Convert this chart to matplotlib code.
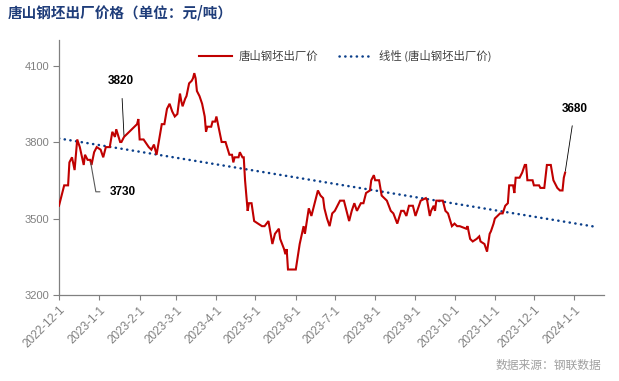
import matplotlib
matplotlib.use("Agg")
import matplotlib.pyplot as plt
import numpy as np
import pandas as pd

CJK = ["Noto Sans CJK SC", "DejaVu Sans"]
NUM = ["Liberation Sans", "DejaVu Sans"]

# days since 2022-12-01 and price (元/吨)
DAY_OFFSET = [0, 4, 7, 8, 9, 10, 12, 14, 16, 19, 20, 22, 24, 25, 27, 29, 32, 34, 36, 39,
              41, 43, 44, 47, 48, 50, 60, 61, 62, 65, 69, 71, 73, 75, 79, 81, 83, 85, 87, 89,
              91, 93, 94, 95, 97, 98, 100, 102, 103, 104, 105, 106, 108, 110, 112, 113, 114, 117, 118, 120,
              121, 123, 125, 128, 131, 133, 134, 135, 138, 139, 141, 142, 143, 145, 146, 148, 150, 153, 156, 158,
              161, 164, 166, 169, 170, 173, 174, 175, 176, 182, 185, 188, 189, 192, 194, 196, 199, 201, 203, 204,
              206, 208, 210, 212, 213, 216, 219, 221, 223, 225, 227, 229, 232, 234, 236, 239, 240, 242, 243, 246,
              248, 252, 255, 257, 260, 263, 265, 267, 269, 272, 274, 278, 282, 283, 285, 286, 288, 289, 290, 295,
              297, 299, 302, 304, 306, 308, 313, 314, 316, 318, 321, 323, 324, 327, 329, 331, 332, 334, 335, 337,
              339, 341, 343, 345, 346, 349, 350, 351, 354, 356, 358, 359, 360, 364, 365, 369, 370, 373, 375, 376,
              378, 380, 383, 385, 387, 388, 389]
PRICE = [3550, 3630, 3630, 3720, 3730, 3740, 3690, 3810, 3780, 3710, 3750, 3730, 3730, 3710, 3760, 3780, 3770, 3740, 3780, 3780,
         3840, 3820, 3850, 3800, 3800, 3820, 3870, 3890, 3810, 3810, 3780, 3770, 3790, 3750, 3870, 3870, 3930, 3950, 3920, 3900,
         3910, 3990, 3960, 3940, 3970, 3980, 4030, 4040, 4050, 4070, 4050, 4000, 3980, 3950, 3900, 3840, 3860, 3860, 3880, 3880,
         3900, 3850, 3800, 3800, 3750, 3750, 3720, 3740, 3740, 3760, 3740, 3740, 3650, 3530, 3560, 3560, 3490, 3480, 3470, 3470,
         3490, 3400, 3440, 3460, 3420, 3380, 3360, 3380, 3300, 3300, 3400, 3470, 3440, 3540, 3510, 3550, 3610, 3590, 3580, 3540,
         3500, 3470, 3520, 3530, 3540, 3570, 3570, 3530, 3490, 3530, 3560, 3530, 3560, 3560, 3600, 3610, 3650, 3670, 3650, 3650,
         3590, 3570, 3530, 3520, 3480, 3530, 3530, 3510, 3550, 3550, 3510, 3570, 3580, 3570, 3510, 3530, 3550, 3530, 3570, 3570,
         3530, 3520, 3470, 3480, 3470, 3470, 3460, 3470, 3420, 3410, 3420, 3430, 3410, 3400, 3370, 3440, 3450, 3480, 3500, 3510,
         3520, 3520, 3550, 3560, 3630, 3630, 3600, 3660, 3660, 3680, 3710, 3710, 3650, 3650, 3630, 3630, 3620, 3620, 3710, 3710,
         3710, 3650, 3620, 3610, 3610, 3660, 3680]
START = "2022-12-01"
TREND_END = "2024-01-19"
X_END = "2024-01-24"
X_TICKS = ["2022-12-01", "2023-01-01", "2023-02-01", "2023-03-01", "2023-04-01", "2023-05-01", "2023-06-01",
           "2023-07-01", "2023-08-01", "2023-09-01", "2023-10-01", "2023-11-01", "2023-12-01", "2024-01-01"]
Y_TICKS = [3200, 3500, 3800, 4100]
LABELS = [(24, 3730), (50, 3820), (389, 3680)]

start = pd.Timestamp(START)
dates = start + pd.to_timedelta(DAY_OFFSET, unit="D")
price = np.array(PRICE, dtype=float)

# linear trend over the series, extended forward
k, b = np.polyfit(DAY_OFFSET, price, 1)
t_end = (pd.Timestamp(TREND_END) - start).days
tx = np.array([0, t_end])

fig = plt.figure(figsize=(6.19, 3.81), dpi=100)
fig.patch.set_facecolor("white")
ax = fig.add_axes([0.0953, 0.2257, 0.8807, 0.6693])

RED = "#c00000"; BLUE = "#0b3f8a"; GREY = "#808080"
ax.plot(dates, price, color=RED, lw=1.5, solid_joinstyle="miter", zorder=3, label="唐山钢坯出厂价")
ax.plot(start + pd.to_timedelta(tx, unit="D"), k * tx + b, color=BLUE, lw=1.8,
        linestyle=(0, (0.1, 2.2)), dash_capstyle="round", zorder=2, label="线性 (唐山钢坯出厂价)")

ax.set_xlim(start, pd.Timestamp(X_END))
ax.set_ylim(3200, 4200)
ax.set_yticks(Y_TICKS)
ax.set_xticks(pd.to_datetime(X_TICKS))
ax.set_xticklabels([f"{d.year}-{d.month}-{d.day}" for d in pd.to_datetime(X_TICKS)],
                   rotation=45, ha="right", rotation_mode="anchor", family=NUM, fontsize=8.5, color=GREY)
for t in ax.get_yticklabels():
    t.set_family(NUM); t.set_fontsize(8); t.set_color(GREY)
ax.tick_params(axis="both", direction="out", color=GREY, width=0.8)
ax.tick_params(axis="x", length=3.5, pad=3)
ax.tick_params(axis="y", length=4, pad=3)
for s in ["top", "right"]:
    ax.spines[s].set_visible(False)
for s in ["left", "bottom"]:
    ax.spines[s].set_color(GREY); ax.spines[s].set_linewidth(0.9)

leg = ax.legend(loc="center", bbox_to_anchor=(0.525, 0.937), ncol=2, frameon=False,
                handlelength=2.9, columnspacing=1.8, handletextpad=0.6, prop={"family": CJK, "size": 8.2})
for t in leg.get_texts():
    t.set_color("#404040")

# data labels
offs = {24: ((14, -23), "left"), 50: ((-2, 40), "center"), 389: ((7, 46), "center")}
for d, v in LABELS:
    (ox, oy), ha = offs[d]
    dt = start + pd.Timedelta(days=d)
    if d == 24:
        ax.annotate(str(v), xy=(dt, v), xytext=(ox, oy), textcoords="offset points", ha=ha, va="center",
                    fontsize=8.5, fontweight="bold", family=NUM, color="black",
                    arrowprops=dict(arrowstyle="-", color="#595959", lw=0.8, shrinkA=5, shrinkB=2,
                                    connectionstyle="angle,angleA=0,angleB=100,rad=0"))
    else:
        ax.annotate(str(v), xy=(dt, v), xytext=(ox, oy), textcoords="offset points", ha=ha, va="center",
                    fontsize=8.5, fontweight="bold", family=NUM, color="black",
                    arrowprops=dict(arrowstyle="-", color="black", lw=0.6, shrinkA=6, shrinkB=1))

fig.text(8 / 619, 1 - 13 / 381, "唐山钢坯出厂价格（单位：元/吨）", ha="left", va="center",
         fontsize=10.5, fontweight="bold", family=CJK, color="#1f3d7a")
fig.text(601 / 619, 1 - 365 / 381, "数据来源：钢联数据", ha="right", va="center",
         fontsize=8.5, family=CJK, color="#a0a0a0")

fig.savefig("out.png", dpi=100, facecolor="white")
